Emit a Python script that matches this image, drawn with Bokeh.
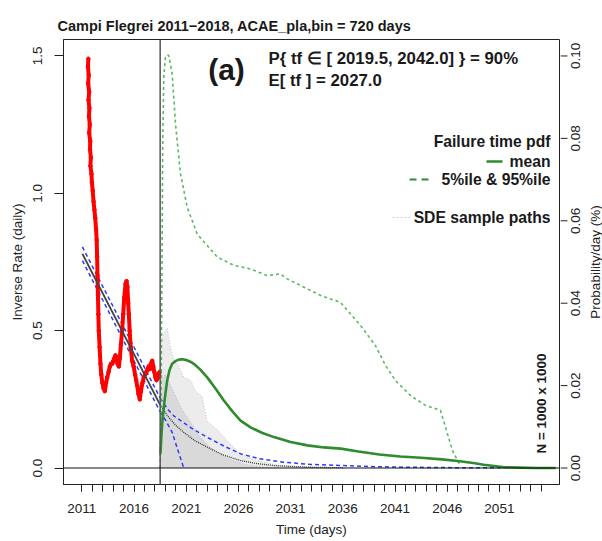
import math
from bokeh.plotting import figure
from bokeh.layouts import row
from bokeh.models import Range1d, FixedTicker, Label, Span, PrintfTickFormatter
from bokeh.embed import file_html
from bokeh.resources import INLINE

# ---------------- data ----------------
obs_year = [2011.62, 2011.58, 2011.66, 2011.60, 2011.70, 2011.64, 2011.72, 2011.68, 2011.76, 2011.70,
            2011.80, 2011.78, 2011.86, 2011.82, 2011.92, 2011.96, 2012.04, 2012.12, 2012.20, 2012.28,
            2012.36, 2012.42, 2012.46, 2012.50, 2012.54, 2012.58, 2012.62, 2012.70, 2012.78, 2012.86,
            2012.96, 2013.08, 2013.20, 2013.32, 2013.43, 2013.56, 2013.68, 2013.80, 2013.91, 2014.02,
            2014.12, 2014.22, 2014.32, 2014.42, 2014.54, 2014.64, 2014.74, 2014.86, 2014.96, 2015.06,
            2015.18, 2015.28, 2015.36, 2015.44, 2015.50, 2015.58, 2015.68, 2015.82, 2015.96, 2016.10,
            2016.20, 2016.30, 2016.42, 2016.55, 2016.66, 2016.80, 2016.93, 2017.06, 2017.18, 2017.30,
            2017.41, 2017.52, 2017.62, 2017.74, 2017.84, 2017.94, 2018.05, 2018.15, 2018.25, 2018.35,
            2018.45]
obs_inv_rate = [1.49, 1.46, 1.43, 1.40, 1.37, 1.34, 1.31, 1.28, 1.25, 1.22,
                1.19, 1.16, 1.13, 1.10, 1.07, 1.04, 1.01, 0.97, 0.94, 0.91,
                0.87, 0.83, 0.77, 0.70, 0.63, 0.56, 0.50, 0.44, 0.38, 0.34,
                0.31, 0.29, 0.28, 0.31, 0.33, 0.35, 0.37, 0.38, 0.38, 0.39,
                0.40, 0.41, 0.40, 0.38, 0.37, 0.40, 0.45, 0.50, 0.56, 0.62,
                0.67, 0.68, 0.66, 0.60, 0.56, 0.50, 0.44, 0.39, 0.37, 0.34,
                0.32, 0.30, 0.27, 0.25, 0.28, 0.31, 0.33, 0.34, 0.35, 0.36,
                0.37, 0.36, 0.38, 0.39, 0.37, 0.35, 0.33, 0.32, 0.34, 0.33,
                0.35]

t_now = 2018.5

fit_year = [2011.05, 2018.5]
fit_mid = [0.78, 0.23]
fit_hi = [0.805, 0.255]
fit_lo = [0.755, 0.205]

ext_hi_year = [2018.5, 2019.2, 2019.8, 2020.45, 2021.5, 2023.0, 2024.6, 2026.2, 2028.0, 2030.3,
               2033.0, 2035.8, 2039.0, 2042.0, 2046.0, 2051.4]
ext_hi = [0.255, 0.215, 0.19, 0.173, 0.145, 0.112, 0.08, 0.052, 0.034, 0.021,
          0.013, 0.009, 0.005, 0.003, 0.0015, 0.0005]
ext_lo_year = [2018.5, 2019.0, 2019.65, 2020.2, 2020.76]
ext_lo = [0.205, 0.175, 0.13, 0.065, 0.0]

path_mean_year = [2018.5, 2019.2, 2020.0, 2020.76, 2021.8, 2023.0, 2024.5, 2026.2, 2027.8, 2029.4, 2032.6, 2036.0]
path_mean = [0.23, 0.19, 0.155, 0.13, 0.10, 0.076, 0.048, 0.027, 0.016, 0.009, 0.003, 0.001]

sde_outer_year = [2018.5, 2018.85, 2019.17, 2019.49, 2019.8, 2020.28, 2020.76, 2021.4, 2021.88, 2022.52,
                  2023.0, 2023.96, 2024.92, 2026.2, 2027.8, 2030.0, 2032.6, 2034.0]
sde_outer_top = [0.44, 0.49, 0.51, 0.44, 0.40, 0.37, 0.33, 0.32, 0.28, 0.26,
                 0.17, 0.14, 0.10, 0.05, 0.027, 0.009, 0.003, 0.0]
sde_inner_year = [2018.5, 2019.0, 2019.5, 2020.0, 2020.5, 2021.0, 2021.5, 2022.0, 2023.0, 2024.0,
                  2025.0, 2026.0, 2027.0, 2028.5, 2030.0]
sde_inner_top = [0.32, 0.34, 0.30, 0.26, 0.22, 0.19, 0.16, 0.13, 0.085, 0.055,
                 0.035, 0.02, 0.01, 0.003, 0.0]

pdf_year = [2018.53, 2018.62, 2018.70, 2018.79, 2018.95, 2019.17, 2019.40, 2019.65, 2020.00, 2020.30,
            2020.61, 2021.00, 2021.40, 2021.72, 2022.30, 2023.01, 2023.80, 2024.60, 2025.40, 2026.20,
            2027.20, 2028.30, 2029.40, 2031.00, 2032.60, 2034.20, 2035.80, 2037.50, 2039.50, 2041.50,
            2043.50, 2045.50, 2047.00, 2048.50, 2049.50, 2050.50, 2051.50, 2053.00, 2054.50, 2056.40]
pdf_mean = [0.0035, 0.0080, 0.0110, 0.0132, 0.0170, 0.0212, 0.0238, 0.0253, 0.0260, 0.0263,
            0.0264, 0.0262, 0.0258, 0.0253, 0.0240, 0.0220, 0.0193, 0.0164, 0.0138, 0.0115,
            0.0098, 0.0085, 0.0075, 0.0063, 0.0055, 0.0050, 0.0047, 0.0040, 0.0033, 0.0028,
            0.0025, 0.0021, 0.0017, 0.0012, 0.0008, 0.0005, 0.0002, 0.0001, 0.0, 0.0]

pdf95_year = [2018.5, 2018.6, 2018.68, 2018.75, 2018.85, 2019.0, 2019.2, 2019.33, 2019.65, 2019.97,
              2020.45, 2021.09, 2022.05, 2023.97, 2025.56, 2027.16, 2028.76, 2030.03, 2030.67, 2031.95,
              2033.86, 2035.78, 2037.69, 2039.13, 2040.09, 2041.05, 2042.48, 2043.92, 2045.36, 2045.93,
              2046.51, 2047.27]
pdf_95 = [0.0, 0.02, 0.05, 0.08, 0.095, 0.0995, 0.1003, 0.1001, 0.0957, 0.0835,
          0.0714, 0.0633, 0.0568, 0.0512, 0.0492, 0.0483, 0.0467, 0.0471, 0.0459, 0.0443,
          0.0419, 0.0402, 0.0346, 0.0297, 0.0249, 0.0212, 0.0176, 0.0152, 0.0140, 0.0091,
          0.0042, 0.0004]

x_major = [2011, 2016, 2021, 2026, 2031, 2036, 2041, 2046, 2051]
x_minor = list(range(2011, 2056))
left_ticks = [0.0, 0.5, 1.0, 1.5]
right_ticks = [0.0, 0.02, 0.04, 0.06, 0.08, 0.10]
right_title = "Probability/day (%)"

# ---------------- layout constants ----------------
L, R, T, B = 63, 559, 39, 484
X0, X1 = 2009.24, 2056.76
Y0, Y1 = -0.06, 1.56
P0, P1 = -0.004, 0.104
FONT = "Liberation Sans"
AX = "#222222"


def dx(px):
    return X0 + (px - L) / (R - L) * (X1 - X0)


def dy(py):
    return Y0 + (B - py) / (B - T) * (Y1 - Y0)


p = figure(width=R + 1, height=541, x_range=Range1d(X0, X1), y_range=Range1d(Y0, Y1),
           output_backend="svg", toolbar_location=None,
           title="Campi Flegrei 2011\u22122018, ACAE_pla,bin = 720 days",
           min_border_left=L, min_border_right=1, min_border_top=T, min_border_bottom=541 - B)
p.title.align = "left"
p.title.offset = -6
p.title.text_font = FONT
p.title.text_font_size = "14.5px"
p.title.text_font_style = "bold"
p.title.text_color = "#1a1a1a"
p.title.standoff = 12

p.grid.visible = False
p.outline_line_color = AX
p.outline_line_width = 1
p.background_fill_color = "white"
p.border_fill_color = "white"

xa = p.xaxis[0]
xa.ticker = FixedTicker(ticks=x_major, minor_ticks=x_minor)
xa.formatter = PrintfTickFormatter(format="%d")
xa.major_tick_in = 0
xa.major_tick_out = 7
xa.minor_tick_in = 0
xa.minor_tick_out = 7
xa.major_label_standoff = 12
xa.axis_label = "Time (days)"
xa.axis_label_standoff = 6

ya = p.yaxis[0]
ya.ticker = FixedTicker(ticks=left_ticks)
ya.formatter = PrintfTickFormatter(format="%.1f")
ya.major_tick_in = 0
ya.major_tick_out = 9
ya.major_label_orientation = "vertical"
ya.major_label_standoff = 12
ya.axis_label = "Inverse Rate (daily)"
ya.axis_label_standoff = 6

for ax in (xa, ya):
    ax.axis_line_color = AX
    ax.major_tick_line_color = AX
    ax.minor_tick_line_color = AX if ax is xa else None
    ax.major_label_text_font = FONT
    ax.major_label_text_font_size = "13.5px"
    ax.major_label_text_color = AX
    ax.axis_label_text_font = FONT
    ax.axis_label_text_font_size = "13.5px"
    ax.axis_label_text_font_style = "normal"
    ax.axis_label_text_color = AX

p.extra_y_ranges = {"prob": Range1d(P0, P1)}

# ---------------- SDE sample path cloud ----------------
p.varea(x=sde_outer_year, y1=[0] * len(sde_outer_year), y2=sde_outer_top,
        fill_color="#d4d4d4", fill_alpha=0.45)
p.line(sde_outer_year, sde_outer_top, line_color="#c4c4c4", line_dash="1 2", line_width=1)
p.varea(x=sde_inner_year, y1=[0] * len(sde_inner_year), y2=sde_inner_top,
        fill_color="#c4c4c4", fill_alpha=0.45)
p.line(sde_inner_year, sde_inner_top, line_color="#b8b8b8", line_dash="1 2", line_width=1)

# ---------------- fit lines ----------------
p.line(fit_year, fit_hi, line_color="#2a3cff", line_dash="4 3", line_width=1.5)
p.line(fit_year, fit_lo, line_color="#2a3cff", line_dash="4 3", line_width=1.5)
p.line(ext_hi_year, ext_hi, line_color="#2a3cff", line_dash="4 3", line_width=1.5)
p.line(ext_lo_year, ext_lo, line_color="#2a3cff", line_dash="4 3", line_width=1.5)
p.line(path_mean_year, path_mean, line_color="#333333", line_dash="1 1", line_width=1.3)

# ---------------- observations ----------------
p.line(obs_year, obs_inv_rate, line_color="#ff0000", line_width=4, line_join="round")
p.scatter(obs_year, obs_inv_rate, size=3.5, color="#ff0000")
p.line(fit_year, fit_mid, line_color="#444444", line_width=1.8)

# ---------------- failure-time pdf ----------------
p.line(pdf95_year, pdf_95, y_range_name="prob", line_color="#5cb85c", line_dash="3 3", line_width=1.6)
p.line(pdf_year, pdf_mean, y_range_name="prob", line_color="#2e8b2e", line_width=2.6)

p.add_layout(Span(location=t_now, dimension="height", line_color="#555555", line_width=1.5))
p.add_layout(Span(location=0, dimension="width", line_color="#111111", line_width=1.2))

# ---------------- legend (drawn in place) ----------------
p.line([dx(486), dx(502)], [dy(161), dy(161)], line_color="#2e8b2e", line_width=2.6)
p.line([dx(409), dx(432)], [dy(179), dy(179)], line_color="#2e8b2e", line_dash="7 5", line_width=2.2)
p.line([dx(392), dx(410)], [dy(217), dy(217)], line_color="#cccccc", line_dash="2 2", line_width=1)


def lab(fig, x, y, text, size="15.7px", align="left", style="bold", angle=0.0, color="#1a1a1a"):
    fig.add_layout(Label(x=x, y=y, text=text, text_align=align, text_baseline="middle",
                         text_font=FONT, text_font_size=size, text_font_style=style,
                         text_color=color, angle=angle))


lab(p, dx(550), dy(141), "Failure time pdf", align="right")
lab(p, dx(550), dy(161), "mean", align="right")
lab(p, dx(550), dy(179), "5%ile & 95%ile", align="right")
lab(p, dx(550), dy(217), "SDE sample paths", align="right")

lab(p, dx(226), dy(69), "(a)", size="30px", align="center")
lab(p, dx(268), dy(58), "P{ tf \u2208 [ 2019.5, 2042.0] } = 90%", size="16.8px")
lab(p, dx(268), dy(80), "E[ tf ] = 2027.0", size="16.8px")
lab(p, dx(541), dy(403), "N = 1000 x 1000", size="13.5px", align="center", angle=math.pi / 2)

# ---------------- right-hand probability axis (own strip, same vertical scale) ----------------
pr = figure(width=602 - (R + 1), height=541, x_range=Range1d(1, 602 - R), y_range=Range1d(P0, P1),
            output_backend="svg", toolbar_location=None, x_axis_location=None, y_axis_location=None,
            min_border_left=0, min_border_right=0, min_border_top=T, min_border_bottom=541 - B)
pr.grid.visible = False
pr.outline_line_color = None
pr.background_fill_color = "white"
pr.border_fill_color = "white"
pr.segment(x0=[1] * len(right_ticks), y0=right_ticks, x1=[8] * len(right_ticks), y1=right_ticks,
           line_color=AX, line_width=1)
for v in right_ticks:
    lab(pr, 16, v, "%.2f" % v, size="13.5px", align="center", style="normal",
        angle=math.pi / 2, color=AX)
lab(pr, 36, (P0 + P1) / 2, right_title, size="13.5px", align="center", style="normal",
    angle=math.pi / 2, color=AX)

open("out.html", "w").write(file_html(row(p, pr), INLINE))
